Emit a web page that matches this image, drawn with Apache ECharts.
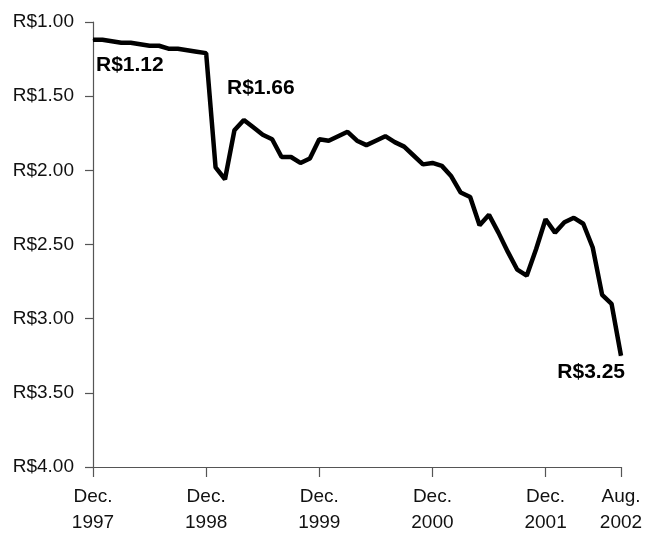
<!DOCTYPE html>
<html>
<head>
<meta charset="utf-8">
<script src="https://cdn.jsdelivr.net/npm/echarts@6/dist/echarts.min.js"></script>
<style>
  html, body { margin: 0; padding: 0; background: #fff; }
  #chart { width: 650px; height: 536px; }
</style>
</head>
<body>
<div id="chart"></div>
<script>
// months, Dec 1997 .. Aug 2002
const months = [
  'Dec 1997',
  'Jan 1998','Feb 1998','Mar 1998','Apr 1998','May 1998','Jun 1998','Jul 1998','Aug 1998','Sep 1998','Oct 1998','Nov 1998','Dec 1998',
  'Jan 1999','Feb 1999','Mar 1999','Apr 1999','May 1999','Jun 1999','Jul 1999','Aug 1999','Sep 1999','Oct 1999','Nov 1999','Dec 1999',
  'Jan 2000','Feb 2000','Mar 2000','Apr 2000','May 2000','Jun 2000','Jul 2000','Aug 2000','Sep 2000','Oct 2000','Nov 2000','Dec 2000',
  'Jan 2001','Feb 2001','Mar 2001','Apr 2001','May 2001','Jun 2001','Jul 2001','Aug 2001','Sep 2001','Oct 2001','Nov 2001','Dec 2001',
  'Jan 2002','Feb 2002','Mar 2002','Apr 2002','May 2002','Jun 2002','Jul 2002','Aug 2002'
];
// reais per US dollar
const rates = [
  1.12,
  1.12, 1.13, 1.14, 1.14, 1.15, 1.16, 1.16, 1.18, 1.18, 1.19, 1.20, 1.21,
  1.98, 2.06, 1.73, 1.66, 1.71, 1.76, 1.79, 1.91, 1.91, 1.95, 1.92, 1.79,
  1.80, 1.77, 1.74, 1.80, 1.83, 1.80, 1.77, 1.81, 1.84, 1.90, 1.96, 1.95,
  1.97, 2.04, 2.15, 2.18, 2.37, 2.30, 2.42, 2.55, 2.67, 2.71, 2.53, 2.33,
  2.42, 2.35, 2.32, 2.36, 2.52, 2.84, 2.90, 3.25
];
const tickMonths = ['Dec 1997','Dec 1998','Dec 1999','Dec 2000','Dec 2001','Aug 2002'];
const tickLabels = ['Dec.\n1997','Dec.\n1998','Dec.\n1999','Dec.\n2000','Dec.\n2001','Aug.\n2002'];
const annotated = ['Dec 1997', 'Apr 1999', 'Aug 2002'];

const fontFamily = '"Liberation Sans", Arial, sans-serif';
const labelPlace = {
  'Dec 1997': { position: 'bottom', align: 'left', offset: [3, 9] },
  'Apr 1999': { position: 'top', align: 'center', offset: [17, -16] },
  'Aug 2002': { position: 'bottom', align: 'right', offset: [4, 0] }
};

const seriesData = rates.map(function (v, i) {
  const m = months[i];
  if (annotated.indexOf(m) >= 0) {
    const p = labelPlace[m];
    return {
      value: v,
      label: {
        show: true,
        position: p.position,
        align: p.align,
        offset: p.offset,
        formatter: 'R$' + v.toFixed(2),
        fontFamily: fontFamily,
        fontWeight: 'bold',
        fontSize: 21,
        color: '#000'
      }
    };
  }
  return v;
});

const isTick = function (idx) { return tickMonths.indexOf(months[idx]) >= 0; };

const chart = echarts.init(document.getElementById('chart'));
chart.setOption({
  animation: false,
  backgroundColor: '#fff',
  grid: { left: 93, right: 29, top: 22, bottom: 66 },
  xAxis: {
    type: 'category',
    data: months,
    boundaryGap: false,
    axisLine: { lineStyle: { color: '#555', width: 1.2 } },
    axisTick: { interval: isTick, length: 10, lineStyle: { color: '#555', width: 1.2 } },
    axisLabel: {
      interval: isTick,
      formatter: function (v) { return tickLabels[tickMonths.indexOf(v)]; },
      fontFamily: fontFamily,
      fontSize: 19,
      lineHeight: 26,
      color: '#111',
      margin: 17
    },
    splitLine: { show: false }
  },
  yAxis: {
    type: 'value',
    inverse: true,
    min: 1,
    max: 4,
    interval: 0.5,
    axisLine: { show: true, lineStyle: { color: '#555', width: 1.2 } },
    axisTick: { show: true, length: 8, lineStyle: { color: '#555', width: 1.2 } },
    axisLabel: {
      formatter: function (v) { return 'R$' + v.toFixed(2); },
      fontFamily: fontFamily,
      fontSize: 19,
      color: '#111',
      margin: 19
    },
    splitLine: { show: false }
  },
  series: [{
    type: 'line',
    data: seriesData,
    symbol: 'circle',
    symbolSize: 1,
    showSymbol: true,
    itemStyle: { color: '#000' },
    lineStyle: { color: '#000', width: 4.5 },
    label: { show: false }
  }]
});
</script>
</body>
</html>
